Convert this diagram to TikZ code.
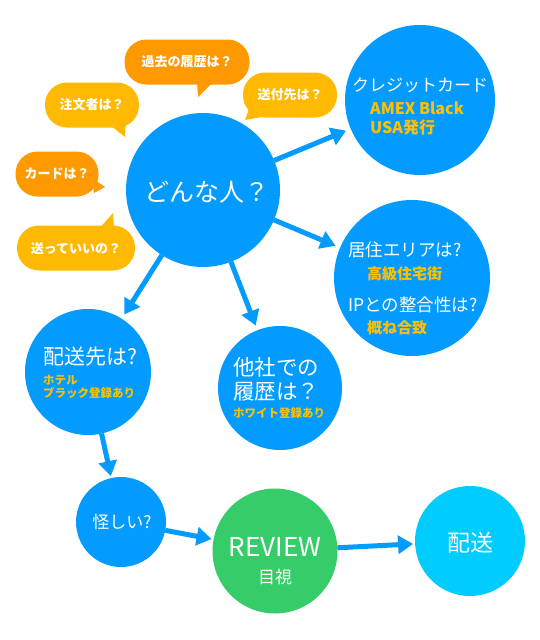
\documentclass[tikz,border=0pt]{standalone}
\usepackage{fontspec}
\usepackage{xcolor}
\usepackage{tikz}
\usetikzlibrary{arrows.meta}
\newfontfamily\jp{Noto Sans CJK JP}
\definecolor{mainblue}{RGB}{3,155,255}
\definecolor{lightcyan}{RGB}{0,204,255}
\definecolor{revgreen}{RGB}{55,204,106}
\definecolor{darkorange}{RGB}{255,153,0}
\definecolor{amber}{RGB}{255,185,0}
\definecolor{subyellow}{RGB}{255,192,0}
\tikzset{
ball/.style = {circle, fill=#1, minimum size=10pt,
              inner sep=0pt, outer sep=0pt},
ball/.default = mainblue % fill of the circle
}
\tikzset{
bubble/.style = {rectangle, rounded corners=22pt, fill=#1, text=white,
                 minimum height=45pt, inner sep=0pt,
                 font=\jp\bfseries\fontsize{13}{15}\selectfont},
bubble/.default = amber,
title/.style = {text=white, inner sep=0pt, align=left},
sub/.style = {text=subyellow, inner sep=0pt, align=left, anchor=west,
              font=\jp\bfseries\fontsize{11.5}{13.5}\selectfont},
flow/.style = {draw=mainblue, line width=5pt,
               -{Triangle[length=15pt,width=18pt]}, shorten >=5pt}
}

\begin{document}
\begin{tikzpicture}[x=1pt,y=-1pt]
  \useasboundingbox (0,0) rectangle (540,640);

  % Bubbles
    \node[bubble=darkorange, minimum width=125pt] (pastBub) at (187,62) {過去の履歴は？};
    \node[bubble, minimum width=94pt] (ordBub) at (92,105) {注文者は？};
    \node[bubble, minimum width=94pt] (shipBub) at (290,95) {送付先は？};
    \node[bubble=darkorange, minimum width=83pt] (cardBub) at (57,174) {カードは？};
    \node[bubble, minimum width=118pt] (okBub) at (76,248) {送っていいの？};

  % Tails
    \fill[darkorange] (197,82) -- (213,82) -- (198,97) -- cycle;
    \fill[amber] (110,125) -- (126,119) -- (125,137) -- cycle;
    \fill[amber] (250,106) -- (262,117) -- (245,120) -- cycle;
    \fill[darkorange] (92,178) -- (94,193) -- (105,187) -- cycle;
    \fill[amber] (98,230) -- (114,229) -- (113,213) -- cycle;

  % Circles
    \node[ball, minimum size=154pt] (who) at (203,190) {};
    \node[ball, minimum size=150pt] (card) at (420,100) {};
    \node[ball, minimum size=156pt] (area) at (412,278) {};
    \node[ball, minimum size=126pt] (dest) at (88,372) {};
    \node[ball, minimum size=124pt] (other) at (280,388) {};
    \node[ball, minimum size=90pt] (sus) at (121,522) {};
    \node[ball=revgreen, minimum size=125pt] (review) at (275,551) {};
    \node[ball=lightcyan, minimum size=110pt] (ship) at (470,541) {};

  % Texts
    \node[title, font=\jp\fontsize{25}{28}\selectfont] (whoT) at (207,192) {どんな人？};
    \node[title, font=\jp\fontsize{17}{20}\selectfont] (cardT) at (420,85) {クレジットカード};
    \node[sub, font=\jp\bfseries\fontsize{16}{19}\selectfont] (cardS) at (370,118) {AMEX Black\\USA発行};
    \node[title, anchor=west, font=\jp\fontsize{17.5}{20}\selectfont] (areaT) at (348,250) {居住エリアは?};
    \node[sub, font=\jp\bfseries\fontsize{15}{17}\selectfont] (areaS) at (367,274) {高級住宅街};
    \node[title, anchor=west, font=\jp\fontsize{17.5}{20}\selectfont] (ipT) at (348,305) {IPとの整合性は?};
    \node[sub, font=\jp\bfseries\fontsize{15}{17}\selectfont] (ipS) at (367,328) {概ね合致};
    \node[title, anchor=west, font=\jp\fontsize{21}{24}\selectfont] (destT) at (43,357) {配送先は?};
    \node[sub] (destS) at (43,387) {ホテル\\ブラック登録あり};
    \node[title, anchor=west, font=\jp\fontsize{21.5}{24}\selectfont] (otherT) at (233,379) {他社での\\履歴は？};
    \node[sub] (otherS) at (233,413) {ホワイト登録あり};
    \node[title, font=\jp\fontsize{17}{19}\selectfont] (susT) at (122,522) {怪しい?};
    \node[title, font=\jp\fontsize{26}{30}\selectfont] (revT) at (275,547) {REVIEW};
    \node[title, font=\jp\fontsize{17}{19}\selectfont] (revS) at (275,577) {目視};
    \node[title, font=\jp\fontsize{23}{26}\selectfont] (shipT) at (470,543) {配送};

  % Arrows
    \draw[flow] (who) -- (card);
    \draw[flow] (who) -- (area);
    \draw[flow] (who) -- (dest);
    \draw[flow] (who) -- (other);
    \draw[flow, shorten >=2pt] (dest) -- (sus);
    \draw[flow, shorten >=2pt] (sus) -- (review);
    \draw[flow, shorten >=2pt] (review) -- (ship);
\end{tikzpicture}
\end{document}
